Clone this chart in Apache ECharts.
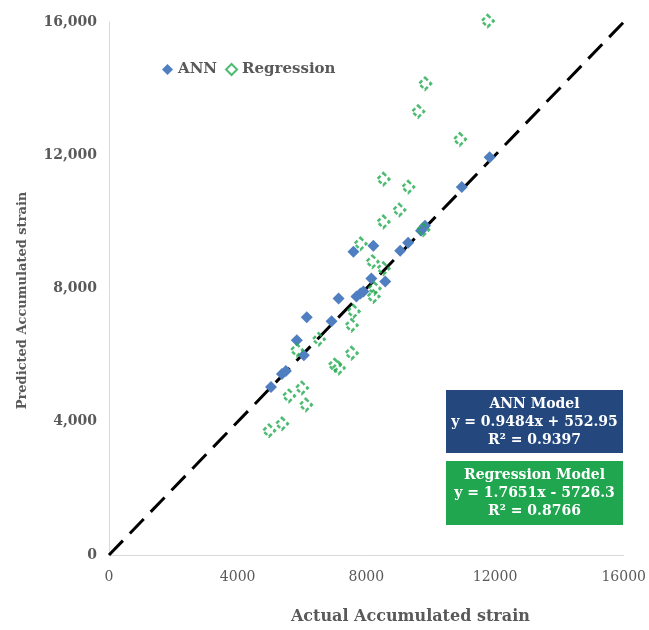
<!DOCTYPE html>
<html>
<head>
<meta charset="utf-8">
<script src="https://cdn.jsdelivr.net/npm/echarts@6/dist/echarts.min.js"></script>
<style>
html,body{margin:0;padding:0;background:#fff;}
#chart{width:649px;height:630px;}
</style>
</head>
<body>
<div id="chart"></div>
<script>
// Actual vs predicted accumulated strain
const annActual = [5035,5375,5498,5838,6055,6147,6919,7136,7692,7815,7908,8155,7599,8217,8587,9051,9298,9699,9823,10966,11831];
const annPred   = [5045,5433,5522,6448,6000,7134,7015,7701,7761,7851,7910,8298,9104,9283,8209,9134,9373,9731,9880,11045,11940];

const regActual = [4973,5375,5591,5993,6116,5838,6518,7012,7136,7537,7537,7599,7815,8186,8248,8217,8526,8526,8526,9020,9298,9607,9823,10904,9761,11769];
const regPred   = [3731,3940,4776,5015,4507,6149,6477,5701,5612,6060,6895,7313,9343,8806,8000,7761,8597,10000,11283,10358,11045,13313,14149,12477,9761,16030];

const lineX = [0,16000];
const lineY = [0,16000];

const xTicks = [0,4000,8000,12000,16000];
const yTicks = [0,4000,8000,12000,16000];

const annText = ['ANN Model','y = 0.9484x + 552.95','R\u00B2 = 0.9397'];
const regText = ['Regression Model','y = 1.7651x - 5726.3','R\u00B2 = 0.8766'];

const FONT = 'DejaVu Serif';
const chart = echarts.init(document.getElementById('chart'));
const zip = (a,b)=>a.map((v,i)=>[v,b[i]]);

chart.setOption({
  animation:false,
  backgroundColor:'#ffffff',
  grid:{left:109,right:22,top:22,bottom:72,containLabel:false},
  legend:{
    left:157, top:57, itemWidth:11, itemHeight:11, itemGap:8,
    textStyle:{fontFamily:FONT,fontWeight:'bold',fontSize:15,color:'#595959'},
    data:[{name:'ANN',icon:'diamond'},{name:'Regression',icon:'diamond'}]
  },
  xAxis:{
    type:'value', min:xTicks[0], max:xTicks[xTicks.length-1], interval:4000,
    name:'Actual Accumulated strain', nameLocation:'middle', nameGap:54,
    nameTextStyle:{fontFamily:FONT,fontWeight:'bold',fontSize:16,color:'#595959',padding:[0,0,0,88]},
    axisLine:{show:true,lineStyle:{color:'#d9d9d9',width:1}},
    axisTick:{show:false},
    splitLine:{show:false},
    axisLabel:{margin:15,fontFamily:FONT,fontSize:14,color:'#595959',formatter:v=>String(v)}
  },
  yAxis:{
    type:'value', min:yTicks[0], max:yTicks[yTicks.length-1], interval:4000,
    name:'Predicted Accumulated strain', nameLocation:'middle', nameGap:80,
    nameTextStyle:{fontFamily:FONT,fontWeight:'bold',fontSize:13,color:'#595959',padding:[0,24,0,0]},
    axisLine:{show:true,lineStyle:{color:'#d9d9d9',width:1}},
    axisTick:{show:false},
    splitLine:{show:false},
    axisLabel:{margin:12,fontFamily:FONT,fontWeight:'bold',fontSize:14,color:'#595959',
      formatter:v=>v.toLocaleString('en-US')}
  },
  series:[
    {
      name:'1:1', type:'line', data:zip(lineX,lineY), symbol:'none', silent:true,
      lineStyle:{color:'#000',width:3,type:[20,10]}, z:1
    },
    {
      name:'ANN', type:'scatter', data:zip(annActual,annPred), symbol:'diamond', symbolSize:12,
      itemStyle:{color:'#4F7FC0',opacity:1}, z:3, clip:false
    },
    {
      name:'Regression', type:'scatter', data:zip(regActual,regPred), symbol:'diamond', symbolSize:12,
      itemStyle:{color:'rgba(0,0,0,0)',borderColor:'#22AA4F',borderWidth:2.5,borderType:[4,2.5]}, z:4, clip:false
    }
  ],
  graphic:[
    {type:'rect', left:446, top:390, shape:{width:177,height:63}, style:{fill:'#24487E'}},
    {type:'text', style:{text:annText.join('\n'),
      x:534.5, y:395, fill:'#ffffff', font:'bold 14px "DejaVu Serif"', lineHeight:18, textAlign:'center'}},
    {type:'rect', left:446, top:461, shape:{width:177,height:64}, style:{fill:'#21A650'}},
    {type:'text', style:{text:regText.join('\n'),
      x:534.5, y:466, fill:'#ffffff', font:'bold 14px "DejaVu Serif"', lineHeight:18, textAlign:'center'}}
  ]
});
</script>
</body>
</html>
